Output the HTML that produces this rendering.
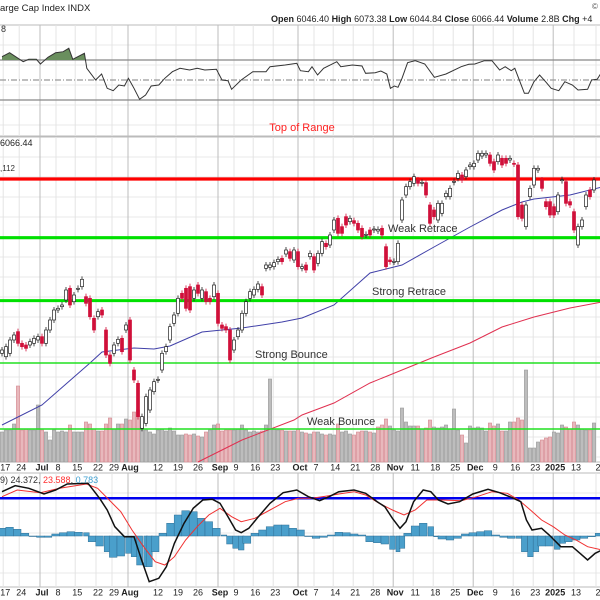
<!DOCTYPE html>
<html><head><meta charset="utf-8">
<style>
html,body{margin:0;padding:0;background:#fff;}
#wrap{position:relative;width:600px;height:600px;overflow:hidden;font-family:"Liberation Sans",sans-serif;}
svg text{font-family:"Liberation Sans",sans-serif;}
</style></head>
<body>
<div id="wrap">
<svg id="chart" width="600" height="600" viewBox="0 0 600 600">
  <text x="0" y="11" font-size="9.5" fill="#222">arge Cap Index  INDX</text>
  <text x="592" y="9" font-size="8" fill="#555">©</text>
  <text x="271" y="22" font-size="9" fill="#222"><tspan font-weight="bold">Open</tspan> 6046.40 <tspan font-weight="bold">High</tspan> 6073.38 <tspan font-weight="bold">Low</tspan> 6044.84 <tspan font-weight="bold">Close</tspan> 6066.44 <tspan font-weight="bold">Volume</tspan> 2.8B <tspan font-weight="bold">Chg</tspan> +4</text>
  <g id="grid"></g>
  <g id="rsi"></g>
  <g id="vol"></g>
  <g id="ma"></g>
  <g id="levels"></g>
  <g id="candles"></g>
  <g id="macd"></g>
  <g id="axes"></g>
  <text x="1" y="32" font-size="9" fill="#333">8</text>
  <text x="302" y="131" font-size="11" fill="#ff2020" text-anchor="middle">Top of Range</text>
  <text x="0" y="146" font-size="9" fill="#222">6066.44</text>
  <text x="0" y="171" font-size="8" fill="#333">,112</text>
  <text x="388" y="232" font-size="11" fill="#333">Weak Retrace</text>
  <text x="372" y="295" font-size="11" fill="#333">Strong Retrace</text>
  <text x="255" y="358" font-size="11" fill="#333">Strong Bounce</text>
  <text x="307" y="425" font-size="11" fill="#333">Weak Bounce</text>
  <text x="0" y="483" font-size="9" fill="#333">9) 24.372, <tspan fill="#ff3030">23.588</tspan>, <tspan fill="#40a0d0">0.783</tspan></text>
</svg>
</div>
<script>
const opens=[5477,5467,5477,5517,5542,5507,5502,5502,5507,5517,5527,5507,5547,5577,5607,5617,5637,5672,5632,5669,5677,5647,5642,5582,5587,5607,5547,5472,5477,5507,5522,5547,5577,5427,5387,5252,5267,5307,5362,5397,5427,5482,5517,5567,5597,5657,5672,5677,5642,5682,5642,5662,5642,5647,5657,5562,5557,5547,5487,5527,5547,5597,5642,5652,5669,5677,5732,5735,5737,5752,5762,5775,5782,5757,5782,5732,5742,5767,5767,5747,5777,5807,5802,5847,5882,5857,5887,5872,5875,5867,5852,5832,5847,5847,5844,5852,5797,5757,5751,5752,5877,5952,5977,5987,5997,5987,5989,5922,5907,5877,5897,5947,5947,5990,6002,6012,6007,6037,6037,6057,6069,6072,6072,6052,6052,6062,6062,6057,6047,6042,5922,5857,5947,5982,6027,5997,5932,5932,5917,5902,5995,5992,5932,5902,5802,5857,5917,5967,5967];
const closes=[5487,5497,5517,5532,5507,5497,5492,5512,5522,5527,5507,5547,5577,5607,5612,5622,5667,5622,5652,5672,5699,5627,5587,5547,5602,5592,5472,5447,5502,5519,5482,5562,5457,5397,5287,5287,5347,5367,5392,5399,5477,5497,5557,5592,5642,5642,5612,5607,5667,5657,5667,5632,5632,5682,5567,5552,5547,5457,5517,5547,5597,5632,5662,5669,5685,5652,5742,5742,5749,5759,5752,5787,5762,5787,5737,5737,5727,5777,5727,5777,5812,5797,5832,5877,5837,5837,5862,5882,5867,5847,5827,5834,5832,5850,5849,5832,5737,5752,5753,5807,5937,5977,5992,6007,5987,5990,5952,5867,5887,5927,5927,5957,5972,5993,6017,5997,6027,6042,6047,6077,6077,6077,6047,6027,6072,6042,6047,6062,6045,5887,5882,5922,5972,6032,6032,5972,5917,5892,5892,5952,5998,5927,5922,5847,5857,5877,5952,5947,5997];
const volumes=[3.0,3.2,3.2,3.8,7.6,3.2,3.3,3.2,3.2,5.7,3.2,3.0,2.2,3.2,3.0,3.1,3.0,3.7,3.0,3.0,3.0,4.0,3.8,3.3,3.1,3.1,3.8,4.4,3.3,3.8,3.8,4.3,4.2,5.0,5.2,3.5,3.2,3.0,2.8,3.2,3.3,3.1,3.4,3.1,2.7,2.7,2.8,2.7,2.8,2.6,2.5,3.0,3.2,3.7,3.8,3.1,3.2,3.2,3.2,3.3,3.7,3.2,3.0,3.1,3.0,3.1,3.7,8.3,3.3,3.2,3.2,3.1,3.1,3.1,3.3,3.0,2.9,2.8,3.0,3.0,2.8,2.7,2.8,2.7,3.8,3.0,3.1,2.8,2.7,3.0,3.1,3.1,3.0,2.9,3.5,3.7,4.3,3.6,3.2,3.1,5.4,4.0,3.6,3.6,3.6,3.3,3.4,4.2,3.5,3.4,3.5,3.7,3.3,5.3,3.2,2.7,1.9,3.6,3.4,3.5,3.4,3.1,3.9,3.6,3.8,3.1,3.1,4.0,4.0,4.4,4.2,9.2,1.4,1.4,2.0,2.2,2.4,2.5,3.0,2.9,3.7,3.5,3.3,4.0,3.7,3.3,3.2,3.2,3.9];
const ma50Day=[0,10,22,25,33,38,42,50,60,70,75,83,92,100,108,117,125,130,133,142,150];
const ma50Val=[5262,5322,5448,5481,5493,5490,5499,5541,5553,5571,5583,5622,5718,5742,5796,5856,5907,5931,5940,5952,5976];
const ma200Day=[49,60,73,75,83,92,100,108,117,125,133,142,150];
const ma200Val=[5151,5217,5277,5292,5328,5388,5427,5466,5508,5556,5586,5613,5631];
const levelVals=[6000,5824,5635,5448,5250];
const rsiDay=[0,1.9,5.3,6.7,8.6,9.6,11.5,13.4,15.3,16.7,17.7,20.6,21.2,23.4,24.9,26.3,27.8,29.2,30.6,31.6,33,34.4,35.9,37.3,39.2,40.7,42.6,44.5,46.9,48.8,50.7,53.6,55,56.5,57.4,59.8,62.7,66,67,70.8,73.7,74.6,76.6,77.5,78.9,80.4,83.7,84.7,87.6,90,90.9,93.3,94.7,96.2,97.1,98.1,99,100,101.4,103.3,105.7,108.1,111,114.8,116.7,118.2,120.6,122.5,124.4,125.8,127.3,128.2,130.6,131.6,133,134.4,135.9,137.3,139.2,140.7,142.6,144,146.4,147.4,148.8,150];
const rsiVal=[73.3,77.3,68.3,70.7,70.7,66,72.7,77.3,78.3,81.7,70.7,76.7,61.7,50,56,41.7,39.3,45,44,51.7,41.7,30.7,35,44,45,51.7,58.3,61.7,60,61.7,60,60.7,50,49.3,40.7,50,58.3,58.3,63.3,65,66.7,59.3,58.3,63.3,55,61.7,68.3,63.3,65,64,56.7,57.3,59,56,41.7,44,42.7,51.7,67.3,69.3,66,52.7,56,63.3,65.7,66,69.3,69.3,60,63.3,59.3,61.7,36.7,36.7,48.3,55,48.3,41.7,39.3,48.3,45,40,40.7,50,50.7,58.3];
const macdDay=[0,3.3,6.7,10.5,13.4,16.3,21.5,24.4,26.3,28.2,30.6,33,34.9,36.8,39.2,41.1,43.1,45.5,47.8,50.2,52.6,54.5,56.5,58.4,59.8,61.7,64.1,67,70.3,73.7,76.6,79.4,81.8,84.2,88,90.9,93.8,95.7,97.6,99.5,101,102.9,105.3,107.2,109.1,111.5,114.4,117.7,121.5,124.4,127.3,129.7,131.1,132.5,134.9,136.8,139.7,142.6,144.5,146.4,148.3,150];
const macdVal=[44.3,50.3,47.7,42,46,52,52.7,37.7,26,9.3,-0.7,-0.7,-24,-45.7,-42.3,-30.7,-7.3,12.7,27.7,36,36.7,32.7,19.3,6,3.3,7.7,19.3,32.7,43.3,46,39.3,35.3,39.3,44.3,46,42.7,34.3,29.3,17.7,7.7,14.3,34.3,46,44.3,36,32,34.3,42,46.7,43.3,38.7,34.3,16,6,7.7,1,-10.7,-10.7,-17.3,-24,-17.3,-14];
const signalDay=[0,3.8,9.6,14.4,21.1,23.9,26.8,29.7,32.5,35.4,38.3,40.7,43.1,45.9,48.8,51.7,54.5,57.4,59.8,63.2,67,70.8,74.2,77.5,81.3,84.2,88,90.9,94.3,97.6,100.5,103.3,106.2,110,114.8,118.7,122.5,126.3,129.2,132.1,134.9,137.8,140.7,143.5,146.4,150];
const signalVal=[39.3,46,43.3,47.7,52,47.7,36,24.3,6,-10.7,-25.7,-29,-20.7,-4,9.3,21,27.7,19.3,14.3,17.7,26,34.3,37.7,37.7,40,42,44.3,41,32.7,26,21,26,36,36,35.3,39.3,44.3,42.7,36,26,16,9.3,1,-4,-10.7,-14];
const histDay=[0,1.9,3.8,5.7,7.7,9.6,11.5,13.4,15.3,17.2,19.1,21.1,22.5,24.4,26.3,27.8,29.7,31.6,33,34.4,35.9,36.8,38.3,40.2,42.1,44,45.9,47.8,49.8,51.7,53.6,55.5,56.9,58.4,59.8,61.2,63.2,65.1,67,68.9,70.8,72.7,74.6,76.6,78.5,80.4,82.3,84.2,86.1,88,90,91.9,93.8,95.7,97.6,99,100,101.4,103.3,105.3,107.2,108.6,110,112,113.9,115.8,117.7,119.6,121.5,123.4,125.4,127.3,129.2,130.6,132.1,133.5,134.9,136.8,138.8,140.2,141.6,143.5,145.5,147.4,149.3];
const histVal=[7.7,8.7,6.7,2.7,0,-1.3,-1.3,2,3.3,4.3,3.7,3.3,-5.7,-10,-15.7,-21.3,-20,-17.3,-20.7,-29,-30.7,-30.7,-15.7,2.7,12.7,21,25.3,24.3,17.7,14.3,7.7,1,-8,-12.3,-14,-7.3,2.7,6,9.3,11,11,7.7,6,0,-2.3,-1.3,1,3.7,3.3,2,1,-5.7,-6.7,-8,-13.3,-15.7,-12.3,2.7,10,12.7,9.3,-0.7,-3,-4,-2.3,2,3.3,4.3,5.3,1,-1.3,-2.3,-2.3,-15.7,-20.7,-15.7,-10,-10,-13.3,-7.3,-5.7,-4,-2.3,-0.7,2.7];
const macdRefLevel=37.7;
const weekTicks=["17","24","Jul","8","15","22","29","Aug","12","19","26","Sep","9","16","23","Oct","7","14","21","28","Nov","11","18","25","Dec","9","16","23","2025","13","2"];
const weekDays=[0.8,4.8,10,14,18.8,24,28,32,39,44,49,54.5,58.5,63.3,68.3,74.5,78.5,83.3,88.3,93.3,98.3,103.3,108.3,113.3,118.3,123.3,128.3,133.3,138.3,143.5,149];

const NS="http://www.w3.org/2000/svg";
function xDay(d){return 2+4*d;}
function yPrice(p){return 179+(6000-p)/3;}
function yVol(v){return 462-v*10;}
function yRsi(r){return 130-r;}
function yMacd(v){return 536-v;}
function mk(tag,attrs,parent){const e=document.createElementNS(NS,tag);for(const k in attrs)e.setAttribute(k,attrs[k]);parent.appendChild(e);return e;}
function pathFrom(days,vals,yf){return days.map((d,i)=>(i?'L':'M')+xDay(d).toFixed(1)+' '+yf(vals[i]).toFixed(1)).join(' ');}

// grid
const grid=document.getElementById('grid');
const panels=[[25,136],[137,462],[473,587]];
panels.forEach(([t,b])=>{
  for(let y=t+20;y<b;y+=20){
    const l=mk('line',{x1:0,x2:600,y1:y,y2:y,stroke:'#e8e8e8','stroke-width':1},grid);
    
    
  }
  const r=mk('rect',{x:-1,y:t,width:602,height:b-t,fill:'none',stroke:'#bbb','stroke-width':1},grid);
  
  
});
weekDays.forEach((d,i)=>{
  const isMonth=isNaN(+weekTicks[i]) || weekTicks[i]==='2025';
  panels.forEach(([t,b])=>{
    const l=mk('line',{x1:xDay(d)-2,x2:xDay(d)-2,y1:t,y2:b,stroke:isMonth?'#bdbdbd':'#e4e4e4','stroke-width':1},grid);
    
    
  });
});

// RSI
const rsiG=document.getElementById('rsi');
[[70,'#888','none'],[50,'#999','6,2,1,2'],[30,'#888','none']].forEach(([v,c,da])=>{
  const l=mk('line',{x1:0,x2:600,y1:yRsi(v),y2:yRsi(v),stroke:c,'stroke-width':1.2,'stroke-dasharray':da},rsiG);
  
  
});
// overbought fill
let fillD='';
for(let i=0;i<rsiDay.length-1;i++){
  const a=rsiVal[i],b=rsiVal[i+1];
  if(a>70||b>70){
    const x1=xDay(rsiDay[i]),x2=xDay(rsiDay[i+1]);
    let xa=x1,xb=x2,ya=Math.max(a,70),yb=Math.max(b,70);
    if(a<70){xa=x1+(x2-x1)*(70-a)/(b-a);ya=70;}
    if(b<70){xb=x1+(x2-x1)*(a-70)/(a-b);yb=70;}
    fillD+='M'+xa+' '+yRsi(70)+' L'+xa+' '+yRsi(ya)+' L'+xb+' '+yRsi(yb)+' L'+xb+' '+yRsi(70)+' Z ';
  }
}
const rf=mk('path',{d:fillD,fill:'#6a8f5e',stroke:'none'},rsiG);


const rl=mk('path',{d:pathFrom(rsiDay,rsiVal,yRsi),fill:'none',stroke:'#333','stroke-width':1},rsiG);



// volume
const volG=document.getElementById('vol');
volumes.forEach((v,i)=>{
  const down=i>0?closes[i]<closes[i-1]:closes[i]<opens[i];
  const r=mk('rect',{x:xDay(i)-1.6,y:yVol(v),width:3.2,height:462-yVol(v),fill:down?'#e8b8bc':'#bdbdbd',stroke:down?'#d48890':'#999','stroke-width':0.6},volG);
  
  
});

// MAs
const maG=document.getElementById('ma');
const m50=mk('path',{d:pathFrom(ma50Day,ma50Val,yPrice),fill:'none',stroke:'#4040a8','stroke-width':1},maG);


const m200=mk('path',{d:pathFrom(ma200Day,ma200Val,yPrice),fill:'none',stroke:'#e03050','stroke-width':1},maG);



// levels
const lvG=document.getElementById('levels');
const lvStyle=[['#ff0000',3.2],['#00e000',3.2],['#00e000',3],['#20e020',1.5],['#20e020',1.5]];
const lvNames=['top-of-range-line','weak-retrace-line','strong-retrace-line','strong-bounce-line','weak-bounce-line'];
levelVals.forEach((v,i)=>{
  const l=mk('line',{x1:0,x2:600,y1:yPrice(v),y2:yPrice(v),stroke:lvStyle[i][0],'stroke-width':lvStyle[i][1]},lvG);
  
  
});

// candles
const cG=document.getElementById('candles');
opens.forEach((o,i)=>{
  const c=closes[i];const up=c>=o;
  const x=xDay(i);const yt=yPrice(Math.max(o,c)),yb=yPrice(Math.min(o,c));
  const col=up?'#222':'#d0103a';
  const w=mk('line',{x1:x,x2:x,y1:yt-3,y2:yb+3,stroke:col,'stroke-width':0.8},cG);
  
  
  const r=mk('rect',{x:x-1.5,y:yt,width:3,height:Math.max(1,yb-yt),fill:up?'#fff':'#d0103a',stroke:col,'stroke-width':0.7},cG);
  
  
});

// MACD
const mG=document.getElementById('macd');
histDay.forEach((d,i)=>{
  const next=i<histDay.length-1?histDay[i+1]:d+2;
  const w=(next-d)*4;const v=histVal[i];
  const y=Math.min(yMacd(v),yMacd(0));
  const r=mk('rect',{x:xDay(d)-w/2,y:y,width:w,height:Math.abs(v)||0.5,fill:'#4a9fcb',stroke:'#2f6f96','stroke-width':0.5},mG);
  
  
});
const ref=mk('line',{x1:0,x2:600,y1:yMacd(macdRefLevel),y2:yMacd(macdRefLevel),stroke:'#0000ee','stroke-width':2.5},mG);


const sl=mk('path',{d:pathFrom(signalDay,signalVal,yMacd),fill:'none',stroke:'#f03030','stroke-width':1},mG);


const ml=mk('path',{d:pathFrom(macdDay,macdVal,yMacd),fill:'none',stroke:'#111','stroke-width':1.5},mG);



// axis labels
const aG=document.getElementById('axes');
[470.5,595.5].forEach(y=>{
  weekTicks.forEach((t,i)=>{
    const isMonth=isNaN(+t)||t==='2025';
    const tx=mk('text',{x:xDay(weekDays[i]),y:y,'font-size':9,'text-anchor':'middle',fill:'#222','font-weight':isMonth?'bold':'normal'},aG);
    tx.textContent=t;
    
    
  });
});
</script>
</body></html>
